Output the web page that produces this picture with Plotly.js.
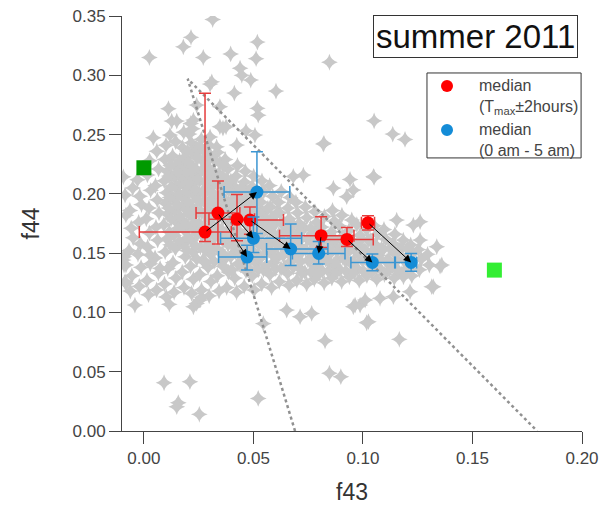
<!DOCTYPE html>
<html>
<head>
<meta charset="utf-8">
<script src="https://cdn.plot.ly/plotly-3.0.1.min.js"></script>
<style>
html,body{margin:0;padding:0;background:#fff;}
#chart{width:606px;height:509px;}
</style>
</head>
<body>
<div id="chart"></div>
<script>
// ---- background cloud (all data points) ----
const cloudCoreF43 = [
-0.0062,-0.0055,-0.0068,-0.0049,-0.0058,-0.0064,-0.0051,
-0.0021,-0.0013,-0.0027,-0.0016,-0.0024,-0.0011,-0.0019,-0.0029,
0.0021,0.0014,0.0029,0.0017,0.0025,0.0011,0.0023,0.0031,0.0016,0.0026,
0.0058,0.0066,0.0051,0.0063,0.0055,0.0069,0.0061,0.0053,0.0067,0.0059,
0.0102,0.0094,0.0109,0.0097,0.0105,0.0091,0.0108,0.0099,0.0104,0.0093,0.0107,0.0096,0.0101,
0.0138,0.0146,0.0133,0.0144,0.0136,0.0149,0.0141,0.0134,0.0147,0.0139,0.0143,0.0131,0.0145,
0.0183,0.0175,0.0189,0.0178,0.0186,0.0172,0.0184,0.0177,0.0188,0.0174,0.0181,0.0187,0.0176,0.0182,
0.0218,0.0226,0.0213,0.0224,0.0216,0.0229,0.0221,0.0214,0.0227,0.0219,0.0223,0.0211,0.0225,0.0217,0.0222,
0.0263,0.0255,0.0269,0.0258,0.0266,0.0252,0.0264,0.0257,0.0268,0.0254,0.0261,0.0267,0.0256,0.0262,
0.0298,0.0306,0.0293,0.0304,0.0296,0.0309,0.0301,0.0294,0.0307,0.0299,0.0303,0.0291,0.0305,0.0297,
0.0343,0.0335,0.0349,0.0338,0.0346,0.0332,0.0344,0.0337,0.0348,0.0334,0.0341,0.0347,0.0336,
0.0378,0.0386,0.0373,0.0384,0.0376,0.0389,0.0381,0.0374,0.0387,0.0379,0.0383,0.0371,
0.0423,0.0415,0.0429,0.0418,0.0426,0.0412,0.0424,0.0417,0.0428,0.0414,0.0421,0.0427,
0.0458,0.0466,0.0453,0.0464,0.0456,0.0469,0.0461,0.0454,0.0467,0.0459,0.0463,
0.0503,0.0495,0.0509,0.0498,0.0506,0.0492,0.0504,0.0497,0.0508,0.0494,0.0501,
0.0538,0.0546,0.0533,0.0544,0.0536,0.0549,0.0541,0.0534,0.0547,0.0539,
0.0583,0.0575,0.0589,0.0578,0.0586,0.0572,0.0584,0.0577,0.0588,0.0574,
0.0618,0.0626,0.0613,0.0624,0.0616,0.0629,0.0621,0.0614,0.0627,
0.0663,0.0655,0.0669,0.0658,0.0666,0.0652,0.0664,0.0657,0.0668,
0.0698,0.0706,0.0693,0.0704,0.0696,0.0709,0.0701,0.0694,
0.0743,0.0735,0.0749,0.0738,0.0746,0.0732,0.0744,0.0737,
0.0778,0.0786,0.0773,0.0784,0.0776,0.0789,0.0781,
0.0823,0.0815,0.0829,0.0818,0.0826,0.0812,0.0824,
0.0858,0.0866,0.0853,0.0864,0.0856,0.0869,0.0861,
0.0903,0.0895,0.0909,0.0898,0.0906,0.0892,0.0904,
0.0938,0.0946,0.0933,0.0944,0.0936,0.0949,
0.0983,0.0975,0.0989,0.0978,0.0986,0.0972,
0.1018,0.1026,0.1013,0.1024,0.1016,
0.1063,0.1055,0.1069,0.1058,0.1066,0.1052,
0.1098,0.1106,0.1093,0.1104,0.1096,
0.1143,0.1135,0.1149,0.1138,0.1146,
0.1178,0.1186,0.1173,0.1184,
0.1223,0.1215,0.1229,0.1218,
0.1258,0.1266,0.1253,
0.1303,0.1295
];
const cloudCoreF44 = [
0.118,0.131,0.152,0.163,0.171,0.186,0.205,
0.122,0.138,0.149,0.158,0.176,0.191,0.198,0.212,
0.115,0.127,0.141,0.155,0.167,0.179,0.188,0.203,0.216,0.228,
0.119,0.133,0.146,0.161,0.172,0.184,0.195,0.207,0.221,0.236,
0.113,0.124,0.137,0.151,0.162,0.174,0.183,0.192,0.201,0.211,0.219,0.229,0.241,
0.117,0.129,0.142,0.154,0.165,0.176,0.186,0.196,0.205,0.214,0.223,0.232,0.244,
0.121,0.134,0.147,0.158,0.169,0.178,0.188,0.197,0.206,0.213,0.222,0.231,0.239,0.252,
0.116,0.128,0.139,0.151,0.161,0.171,0.181,0.190,0.199,0.208,0.216,0.225,0.234,0.243,0.255,
0.119,0.132,0.144,0.155,0.165,0.175,0.184,0.193,0.202,0.211,0.219,0.228,0.237,0.246,
0.114,0.126,0.138,0.149,0.159,0.169,0.178,0.187,0.196,0.205,0.214,0.223,0.232,0.241,
0.118,0.131,0.143,0.153,0.163,0.172,0.181,0.190,0.199,0.208,0.217,0.226,0.235,
0.121,0.134,0.146,0.157,0.167,0.176,0.185,0.194,0.203,0.212,0.221,0.229,
0.117,0.129,0.141,0.151,0.161,0.170,0.179,0.188,0.197,0.206,0.215,0.224,
0.122,0.135,0.145,0.155,0.164,0.174,0.183,0.192,0.201,0.210,0.219,
0.119,0.131,0.142,0.152,0.161,0.170,0.179,0.188,0.197,0.206,0.215,
0.124,0.136,0.146,0.156,0.166,0.175,0.184,0.193,0.202,0.211,
0.121,0.132,0.142,0.152,0.162,0.171,0.180,0.189,0.198,0.207,
0.126,0.137,0.147,0.157,0.166,0.175,0.184,0.193,0.202,
0.123,0.133,0.143,0.152,0.161,0.170,0.179,0.188,0.197,
0.127,0.138,0.148,0.157,0.166,0.175,0.184,0.193,
0.124,0.134,0.144,0.153,0.162,0.171,0.180,0.189,
0.128,0.139,0.149,0.158,0.167,0.176,0.185,
0.125,0.135,0.145,0.154,0.163,0.172,0.181,
0.129,0.140,0.150,0.159,0.168,0.177,0.186,
0.126,0.136,0.146,0.155,0.164,0.173,0.182,
0.130,0.141,0.151,0.160,0.169,0.178,
0.127,0.137,0.147,0.156,0.165,0.174,
0.131,0.142,0.152,0.161,0.170,
0.128,0.138,0.148,0.157,0.166,0.173,
0.132,0.143,0.153,0.162,0.170,
0.129,0.139,0.149,0.158,0.166,
0.133,0.144,0.153,0.161,
0.131,0.140,0.150,0.157,
0.136,0.145,0.153,
0.140,0.149
];
const cloudFillF43 = [
0.0121,0.0116,0.0124,0.0113,0.0119,0.0126,0.0115,0.0122,
0.0162,0.0157,0.0165,0.0154,0.0161,0.0167,0.0156,0.0163,
0.0198,0.0203,0.0195,0.0206,0.0201,0.0194,0.0205,0.0197,0.0202,0.0199,
0.0241,0.0236,0.0244,0.0233,0.0239,0.0246,0.0235,0.0242,0.0237,0.0245,0.0238,
0.0282,0.0277,0.0285,0.0274,0.0281,0.0287,0.0276,0.0283,0.0278,0.0286,0.0279,
0.0321,0.0316,0.0324,0.0313,0.0319,0.0326,0.0315,0.0322,0.0317,0.0325,
0.0362,0.0357,0.0365,0.0354,0.0361,0.0367,0.0356,0.0363,0.0358,0.0366,
0.0401,0.0396,0.0404,0.0393,0.0399,0.0406,0.0395,0.0402,0.0397,
0.0442,0.0437,0.0445,0.0434,0.0441,0.0447,0.0436,0.0443,
0.0481,0.0476,0.0484,0.0473,0.0479,0.0486,0.0475,0.0482,
0.0522,0.0517,0.0525,0.0514,0.0521,0.0527,0.0516,
0.0561,0.0556,0.0564,0.0553,0.0559,0.0566,
0.0602,0.0597,0.0605,0.0594,0.0601,0.0607,
0.0641,0.0636,0.0644,0.0633,0.0639,
0.0682,0.0677,0.0685,0.0674,0.0681,
0.0721,0.0716,0.0724,0.0713,0.0719,
0.0762,0.0757,0.0765,0.0754,0.0761,
0.0801,0.0796,0.0804,0.0793,0.0799,
0.0842,0.0837,0.0845,0.0834,
0.0881,0.0876,0.0884,0.0873,
0.0922,0.0917,0.0925,0.0914,
0.0961,0.0956,0.0964,0.0953,
0.1002,0.0997,0.1005,0.0994,
0.1041,0.1036,0.1044,0.1033,
0.1082,0.1077,0.1085,
0.1121,0.1116,0.1124,
0.1162,0.1157,0.1165,
0.1201,0.1196,0.1204
];
const cloudFillF44 = [
0.157,0.168,0.179,0.188,0.197,0.206,0.215,0.224,
0.160,0.171,0.181,0.191,0.200,0.209,0.218,0.228,
0.152,0.163,0.174,0.183,0.193,0.202,0.210,0.218,0.227,0.236,
0.145,0.156,0.166,0.176,0.186,0.195,0.204,0.213,0.221,0.230,0.239,
0.142,0.153,0.164,0.173,0.182,0.191,0.200,0.209,0.218,0.227,0.236,
0.143,0.154,0.164,0.174,0.183,0.192,0.201,0.210,0.219,0.228,
0.139,0.150,0.160,0.170,0.179,0.188,0.197,0.206,0.215,0.224,
0.136,0.147,0.157,0.166,0.175,0.184,0.193,0.202,0.211,
0.140,0.150,0.160,0.169,0.178,0.187,0.196,0.205,
0.137,0.147,0.157,0.166,0.175,0.184,0.193,0.202,
0.136,0.147,0.157,0.166,0.175,0.184,0.193,
0.140,0.150,0.160,0.170,0.179,0.188,
0.137,0.147,0.157,0.166,0.175,0.184,
0.138,0.148,0.157,0.166,0.175,
0.138,0.147,0.156,0.165,0.174,
0.133,0.143,0.152,0.161,0.170,
0.134,0.144,0.153,0.162,0.171,
0.133,0.143,0.152,0.160,0.169,
0.135,0.144,0.153,0.162,
0.134,0.143,0.152,0.161,
0.135,0.145,0.154,0.163,
0.134,0.143,0.152,0.160,
0.135,0.144,0.153,0.162,
0.134,0.143,0.152,0.161,
0.136,0.145,0.154,
0.136,0.145,0.154,
0.135,0.144,0.153,
0.137,0.146,0.154
];
const cloudOutF43 = [
0.0314,0.0215,0.0180,0.0025,0.0271,0.0396,0.0518,0.0512,0.0439,0.0447,0.0488,0.0603,0.0413,0.0847,0.0822,
0.0302,0.0310,0.0112,0.0127,0.0150,0.0043,0.0119,0.0207,0.0214,0.0226,0.0241,0.0347,0.0518,0.0522,0.0347,
0.0361,0.0375,0.0466,0.0507,0.0424,0.0302,0.0332,0.0256,
0.1051,0.1136,0.1192,0.1051,0.0819,0.0941,0.1048,0.0728,0.0682,0.0865,0.0956,0.0926,0.1154,0.1230,0.1261,
0.1261,0.1337,0.1360,0.1321,0.1215,0.1139,0.1025,0.0987,0.0956,0.1185,
0.1017,0.1166,0.0827,0.0847,0.0899,0.0522,0.0253,0.0157,0.0150,0.0210,0.0092,-0.0041,0.0116,0.0226,0.0241,
0.0256,0.0264,-0.0086,-0.0094,-0.0082,0.0074,0.0028,0.0652,0.0713,0.0766,0.0545,0.0964,0.1010,0.1078,0.1314,0.1352,
-0.0094,-0.0086,-0.0082,-0.0091,-0.0091,-0.0082
];
const cloudOutF44 = [
0.347,0.332,0.324,0.315,0.315,0.318,0.328,0.314,0.306,0.300,0.296,0.2867,0.285,0.311,0.2426,
0.2926,0.2945,0.2718,0.2614,0.2614,0.2473,0.2496,0.2504,0.2594,0.2622,0.2749,0.2735,0.2721,0.2664,0.2566,
0.2555,0.2566,0.2532,0.2496,0.2411,0.248,0.2397,0.2397,
0.2616,0.2504,0.2459,0.2139,0.242,0.2122,0.2147,0.2158,0.2147,0.2049,0.2032,0.1976,0.1779,0.1737,0.1765,
0.161,0.1554,0.140,0.1217,0.1175,0.1133,0.0922,0.1062,0.1048,0.1301,
0.0913,0.0773,0.0761,0.0487,0.0458,0.0275,0.0141,0.0239,0.0205,0.0416,0.0407,0.1062,0.1068,0.1048,0.1076,
0.1105,0.1127,0.1259,0.1442,0.140,0.1372,0.1484,0.102,0.0964,0.0992,0.0906,0.1062,0.1105,0.1119,0.1217,0.1391,
0.2144,0.199,0.182,0.147,0.140,0.1245
];

// ---- triangle boundary ----
const triF43 = [0.069, 0.020, 0.1795];
const triF44 = [0.000, 0.297, 0.000];

// ---- reference spectra ----
const refF43 = [0.000, 0.160];
const refF44 = [0.222, 0.1357];
const refColors = ['#009a00', '#33ee33'];

// ---- medians (Tmax ± 2 hours) ----
const redF43 = [0.0279, 0.0338, 0.0425, 0.0484, 0.0809, 0.0927, 0.1023];
const redF44 = [0.1678, 0.1838, 0.1785, 0.1779, 0.1647, 0.1616, 0.1756];
const redXPlus  = [0.012, 0.010, 0.008, 0.0153, 0.015, 0.012, 0.003];
const redXMinus = [0.030, 0.010, 0.0128, 0.008, 0.019, 0.012, 0.003];
const redYPlus  = [0.117, 0.027, 0.021, 0.011, 0.016, 0.010, 0.006];
const redYMinus = [0.008, 0.026, 0.018, 0.012, 0.010, 0.006, 0.006];

// ---- medians (0 am - 5 am) ----
const blueF43 = [0.0516, 0.0500, 0.0471, 0.0670, 0.0798, 0.1043, 0.1220];
const blueF44 = [0.2015, 0.1625, 0.1467, 0.1535, 0.1498, 0.1422, 0.1422];
const blueXPlus  = [0.015, 0.022, 0.009, 0.017, 0.012, 0.0105, 0.0025];
const blueXMinus = [0.015, 0.015, 0.013, 0.011, 0.012, 0.0098, 0.0075];
const blueYPlus  = [0.034, 0.018, 0.010, 0.021, 0.010, 0.007, 0.0075];
const blueYMinus = [0.035, 0.012, 0.011, 0.014, 0.009, 0.007, 0.0075];

// which blue point each red arrow points to
const arrowTarget = [0, 2, 1, 3, 4, 5, 6];

// legend texts
const legendNames = ['median<br>(T<sub>max</sub>±2hours)', 'median<br>(0 am - 5 am)'];
const legendColors = ['rgb(255,0,0)', 'rgb(20,140,215)'];

const FONT = 'Liberation Sans, Arial, sans-serif';
const GRAY = 'rgb(200,200,200)';

const traces = [
  {x: cloudCoreF43.concat(cloudFillF43, cloudOutF43), y: cloudCoreF44.concat(cloudFillF44, cloudOutF44), type: 'scatter', mode: 'markers',
   marker: {symbol: 'star-diamond', size: 12, color: GRAY, line: {width: 0}}, showlegend: false, hoverinfo: 'skip'},
  {x: triF43, y: triF44, type: 'scatter', mode: 'lines',
   line: {color: 'rgb(145,145,145)', width: 2.5, dash: 'dot'}, showlegend: false, hoverinfo: 'skip'},
  {x: refF43, y: refF44, type: 'scatter', mode: 'markers',
   marker: {symbol: 'square', size: 15, color: refColors}, showlegend: false},
  {x: redF43, y: redF44, type: 'scatter', mode: 'markers', showlegend: false,
   marker: {symbol: 'circle', size: 13, color: legendColors[0]},
   error_x: {type: 'data', symmetric: false, array: redXPlus, arrayminus: redXMinus, color: 'rgb(230,60,60)', thickness: 1.5, width: 6},
   error_y: {type: 'data', symmetric: false, array: redYPlus, arrayminus: redYMinus, color: 'rgb(230,60,60)', thickness: 1.5, width: 6}},
  {x: blueF43, y: blueF44, type: 'scatter', mode: 'markers', showlegend: false,
   marker: {symbol: 'circle', size: 13, color: legendColors[1]},
   error_x: {type: 'data', symmetric: false, array: blueXPlus, arrayminus: blueXMinus, color: 'rgb(60,150,210)', thickness: 1.5, width: 6},
   error_y: {type: 'data', symmetric: false, array: blueYPlus, arrayminus: blueYMinus, color: 'rgb(60,150,210)', thickness: 1.5, width: 6}}
];

const annotations = redF43.map((rx, i) => ({
  x: blueF43[arrowTarget[i]], y: blueF44[arrowTarget[i]], xref: 'x', yref: 'y',
  ax: rx, ay: redF44[i], axref: 'x', ayref: 'y',
  text: '', showarrow: true, arrowhead: 2, arrowsize: 1.5, arrowwidth: 1, arrowcolor: '#000', standoff: 0, startstandoff: 0
}));
annotations.push({
  x: 0.768, y: 0.9506, xref: 'paper', yref: 'paper', xanchor: 'center', yanchor: 'middle',
  text: 'summer 2011', showarrow: false, font: {family: FONT, size: 33, color: '#111'},
  bordercolor: '#333', borderwidth: 1, borderpad: 2, bgcolor: '#fff'
});
// legend (drawn as a box with texts and marker circles)
const legendTop = [0.857, 0.751];
legendNames.forEach((t, i) => {
  annotations.push({x: 0.772, y: legendTop[i], xref: 'paper', yref: 'paper', xanchor: 'left', yanchor: 'top',
    align: 'left', text: t, showarrow: false, font: {family: FONT, size: 16, color: '#444'}});
});
const legendCircleY = [0.8313, 0.7253];
const shapes = [
  {type: 'rect', xref: 'paper', yref: 'paper', x0: 0.663, x1: 0.998, y0: 0.658, y1: 0.8627,
   line: {color: '#333', width: 1}, fillcolor: '#fff', layer: 'above'}
];
legendCircleY.forEach((cy, i) => {
  shapes.push({type: 'circle', xref: 'paper', yref: 'paper', x0: 0.6935, x1: 0.7196, y0: cy - 0.0145, y1: cy + 0.0145,
    line: {width: 0}, fillcolor: legendColors[i], layer: 'above'});
});

const layout = {
  width: 606, height: 509,
  margin: {l: 122, r: 24, t: 16, b: 78},
  paper_bgcolor: '#fff', plot_bgcolor: '#fff',
  font: {family: FONT, color: '#444'},
  xaxis: {range: [-0.01, 0.20], tickvals: [0, 0.05, 0.10, 0.15, 0.20], tickformat: '.2f',
    showline: true, linecolor: '#444', linewidth: 1, ticks: 'outside', ticklen: 12, tickcolor: '#444',
    showgrid: false, zeroline: false, tickfont: {size: 17, color: '#444'},
    title: {text: 'f43', font: {size: 23, color: '#333'}, standoff: 16}},
  yaxis: {range: [0, 0.35], tickvals: [0, 0.05, 0.10, 0.15, 0.20, 0.25, 0.30, 0.35], tickformat: '.2f',
    showline: true, linecolor: '#444', linewidth: 1, ticks: 'outside', ticklen: 12, tickcolor: '#444',
    showgrid: false, zeroline: false, tickfont: {size: 17, color: '#444'},
    title: {text: 'f44', font: {size: 23, color: '#333'}, standoff: 26}},
  showlegend: false,
  shapes: shapes,
  annotations: annotations
};

Plotly.newPlot('chart', traces, layout, {displayModeBar: false, staticPlot: true});
</script>
</body>
</html>
